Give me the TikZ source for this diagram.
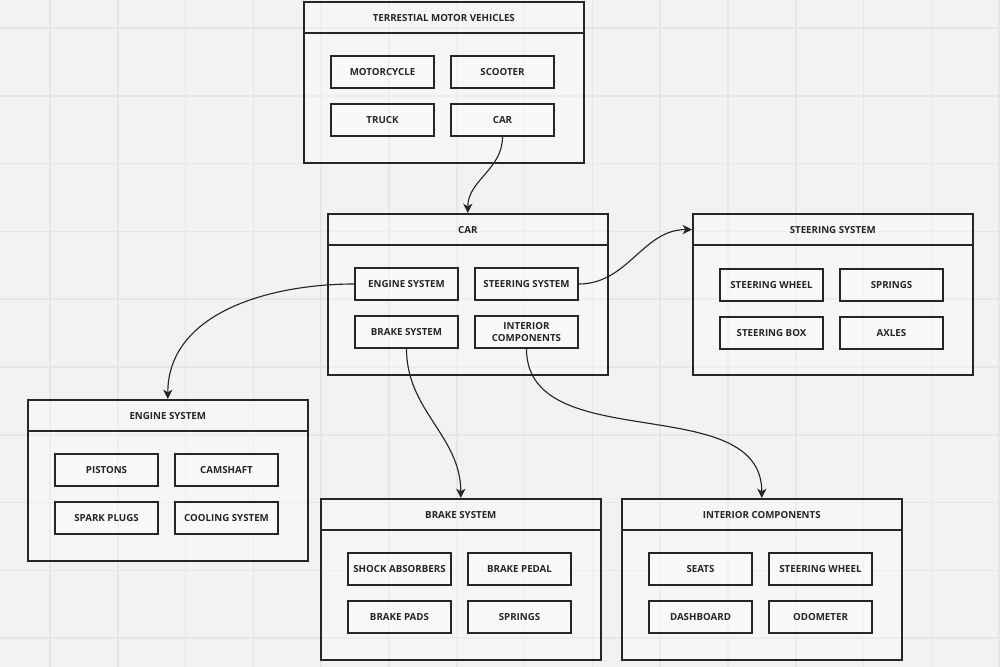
\documentclass[tikz,border=0pt]{standalone}
\usepackage{fontspec}
\setmainfont{Open Sans}
\usetikzlibrary{arrows.meta}
\definecolor{paper}{HTML}{F2F2F2}
\definecolor{gridline}{HTML}{E6E6E6}
\definecolor{ink}{HTML}{262626}

\begin{document}
\begin{tikzpicture}[x=0.75pt, y=-0.75pt,
    every node/.style={font=\fontsize{7.3}{8.7}\selectfont\bfseries, text=ink},
    panel/.style={draw=ink, line width=1.2pt, fill=white, fill opacity=0.35, text opacity=1,
        minimum width=210pt, minimum height=120.75pt, anchor=north west, inner sep=0pt},
    head/.style={draw=ink, line width=1.2pt, minimum width=210pt, minimum height=23.6pt,
        anchor=north west, inner sep=0pt},
    item/.style={draw=ink, line width=1.2pt, fill=white, fill opacity=0.35, text opacity=1,
        minimum width=77.25pt, minimum height=24pt, inner sep=1pt, align=center},
    link/.style={draw=ink, line width=0.85pt, -{Stealth[length=7pt, width=7pt, inset=2pt]}}]
    % canvas and grid
    \fill[paper] (0,0) rectangle (1000,667);
    \useasboundingbox (0,0) rectangle (1000,667);
    \foreach \k in {0,...,14}
        \draw[gridline, line width=1.1pt] ({50+67.8*\k},0) -- ({50+67.8*\k},667);
    \foreach \k in {0,...,9}
        \draw[gridline, line width=1.1pt] (0,{28+67.8*\k}) -- (1000,{28+67.8*\k});

    % terrestial motor vehicles
    \node[panel] (vehPanel) at (303,1) {};
    \node[head] (vehHead) at (303,1) {TERRESTIAL MOTOR VEHICLES};
    \node[item] (motorcycle) at (382.5,72) {MOTORCYCLE};
    \node[item] (scooter) at (502.5,72) {SCOOTER};
    \node[item] (truck) at (382.5,120) {TRUCK};
    \node[item] (carItem) at (502.5,120) {CAR};

    % car
    \node[panel] (carPanel) at (327,213) {};
    \node[head] (carHead) at (327,213) {CAR};
    \node[item] (engItem) at (406.5,284) {ENGINE SYSTEM};
    \node[item] (steerItem) at (526.5,284) {STEERING SYSTEM};
    \node[item] (brakeItem) at (406.5,332) {BRAKE SYSTEM};
    \node[item] (intItem) at (526.5,332) {INTERIOR\\COMPONENTS};

    % steering system
    \node[panel] (steerPanel) at (692,213) {};
    \node[head] (steerHead) at (692,213) {STEERING SYSTEM};
    \node[item] (wheelA) at (771.5,285) {STEERING WHEEL};
    \node[item] (springsA) at (891.5,285) {SPRINGS};
    \node[item] (steerBox) at (771.5,333) {STEERING BOX};
    \node[item] (axles) at (891.5,333) {AXLES};

    % engine system
    \node[panel] (engPanel) at (27,399) {};
    \node[head] (engHead) at (27,399) {ENGINE SYSTEM};
    \node[item] (pistons) at (106.5,470) {PISTONS};
    \node[item] (camshaft) at (226.5,470) {CAMSHAFT};
    \node[item] (plugs) at (106.5,518) {SPARK PLUGS};
    \node[item] (cooling) at (226.5,518) {COOLING SYSTEM};

    % brake system
    \node[panel] (brakePanel) at (320,498) {};
    \node[head] (brakeHead) at (320,498) {BRAKE SYSTEM};
    \node[item] (shocks) at (399.5,569) {SHOCK ABSORBERS};
    \node[item] (pedal) at (519.5,569) {BRAKE PEDAL};
    \node[item] (pads) at (399.5,617) {BRAKE PADS};
    \node[item] (springsB) at (519.5,617) {SPRINGS};

    % interior components
    \node[panel] (intPanel) at (621,498) {};
    \node[head] (intHead) at (621,498) {INTERIOR COMPONENTS};
    \node[item] (seats) at (700.5,569) {SEATS};
    \node[item] (wheelB) at (820.5,569) {STEERING WHEEL};
    \node[item] (dashboard) at (700.5,617) {DASHBOARD};
    \node[item] (odometer) at (820.5,617) {ODOMETER};

    % links
    \draw[link] (carItem.south) to[out=-90, in=90] (carPanel.north);
    \draw[link] (steerItem.east) to[out=0, in=180] (steerHead.west);
    \draw[link] (engItem.west) to[out=180, in=90] (engPanel.north);
    \draw[link] (brakeItem.south) to[out=-90, in=90] (brakePanel.north);
    \draw[link] (intItem.south) to[out=-90, in=90] (intPanel.north);
\end{tikzpicture}
\end{document}
